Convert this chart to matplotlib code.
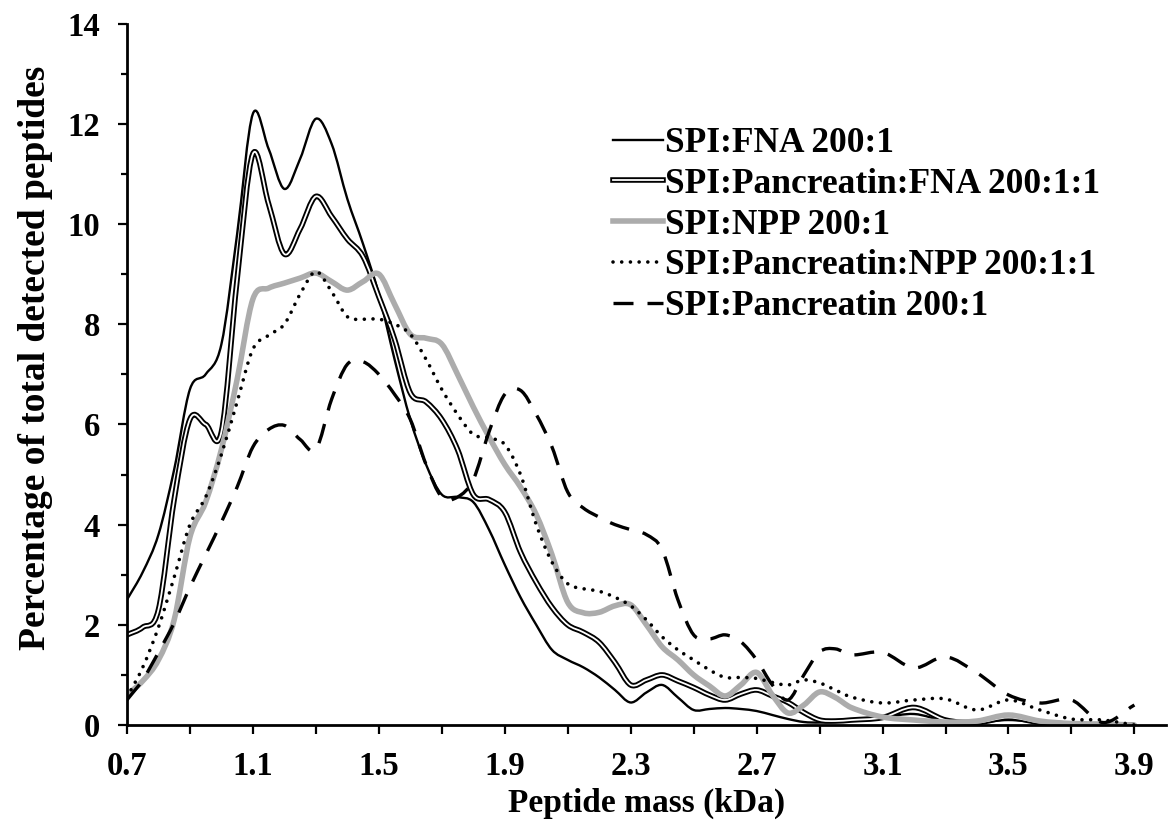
import matplotlib
matplotlib.use("Agg")
import numpy as np
import matplotlib.pyplot as plt
from matplotlib.path import Path
from matplotlib.patches import PathPatch
from matplotlib.lines import Line2D
from matplotlib.ticker import MultipleLocator, FixedLocator
import matplotlib.patheffects as pe

plt.rcParams['font.family'] = ['Liberation Serif', 'DejaVu Serif']
plt.rcParams['font.weight'] = 'bold'

# Peptide mass (kDa)
mass = [0.70, 0.75, 0.80, 0.85, 0.90, 0.95, 1.00, 1.05, 1.10, 1.15, 1.20, 1.25,
        1.30, 1.35, 1.40, 1.45, 1.50, 1.55, 1.60, 1.65, 1.70, 1.75, 1.80, 1.85,
        1.90, 1.95, 2.00, 2.05, 2.10, 2.15, 2.20, 2.25, 2.30, 2.35, 2.40, 2.45,
        2.50, 2.55, 2.60, 2.65, 2.70, 2.75, 2.80, 2.85, 2.90, 2.95, 3.00, 3.10,
        3.20, 3.30, 3.40, 3.50, 3.60, 3.70, 3.80, 3.90]

fna = [2.5, 3.05, 3.8, 5.1, 6.7, 7.0, 7.6, 9.8, 12.2, 11.5, 10.7, 11.3,
       12.1, 11.6, 10.5, 9.6, 8.6, 7.3, 6.1, 5.2, 4.6, 4.55, 4.45, 3.9,
       3.2, 2.55, 2.0, 1.5, 1.3, 1.15, 0.95, 0.7, 0.45, 0.65, 0.8, 0.55,
       0.3, 0.32, 0.34, 0.32, 0.28, 0.2, 0.12, 0.06, 0.05, 0.07, 0.1, 0.15,
       0.22, 0.08, 0.05, 0.1, 0.05, 0.02, 0.0, 0.0]

panc_fna = [1.8, 1.95, 2.3, 4.5, 6.1, 6.0, 5.85, 8.9, 11.4, 10.4, 9.4, 9.9,
            10.55, 10.15, 9.7, 9.35, 8.55, 7.7, 6.63, 6.45, 6.1, 5.5, 4.6, 4.5,
            4.25, 3.45, 2.85, 2.35, 2.0, 1.85, 1.65, 1.25, 0.8, 0.9, 1.0, 0.88,
            0.75, 0.6, 0.5, 0.62, 0.7, 0.58, 0.45, 0.25, 0.1, 0.08, 0.1, 0.15,
            0.35, 0.1, 0.05, 0.15, 0.05, 0.02, 0.0, 0.0]

npp = [0.6, 0.88, 1.3, 2.1, 3.75, 4.45, 5.5, 6.9, 8.5, 8.72, 8.82, 8.92,
       9.02, 8.85, 8.68, 8.85, 9.0, 8.4, 7.8, 7.72, 7.6, 7.0, 6.35, 5.75,
       5.2, 4.75, 4.2, 3.4, 2.45, 2.24, 2.25, 2.38, 2.4, 2.0, 1.56, 1.3,
       1.0, 0.78, 0.58, 0.8, 1.05, 0.6, 0.24, 0.4, 0.66, 0.55, 0.35, 0.16,
       0.1, 0.06, 0.08, 0.2, 0.08, 0.03, 0.02, 0.0]

panc_npp = [0.55, 1.15, 1.95, 2.95, 4.0, 4.55, 5.4, 6.45, 7.5, 7.78, 8.0, 8.6,
            9.05, 8.65, 8.15, 8.1, 8.1, 8.0, 7.8, 7.3, 6.7, 6.2, 5.8, 5.73,
            5.6, 5.0, 4.0, 3.25, 2.82, 2.72, 2.67, 2.55, 2.38, 2.1, 1.76, 1.5,
            1.3, 1.1, 0.95, 0.95, 0.93, 0.85, 0.8, 0.9, 0.84, 0.7, 0.56, 0.44,
            0.5, 0.52, 0.3, 0.5, 0.3, 0.12, 0.1, 0.0]

panc = [0.5, 0.9, 1.45, 2.04, 2.75, 3.4, 4.05, 4.75, 5.55, 5.9, 5.98, 5.7,
        5.5, 6.5, 7.2, 7.25, 7.0, 6.6, 6.1, 5.2, 4.55, 4.55, 4.9, 5.85,
        6.6, 6.68, 6.2, 5.55, 4.65, 4.33, 4.15, 4.0, 3.9, 3.8, 3.5, 2.5,
        1.8, 1.72, 1.8, 1.66, 1.3, 0.8, 0.5, 1.0, 1.46, 1.52, 1.4, 1.45,
        1.14, 1.36, 1.04, 0.6, 0.44, 0.5, 0.05, 0.4]

labels = ["SPI:FNA 200:1", "SPI:Pancreatin:FNA 200:1:1", "SPI:NPP 200:1",
          "SPI:Pancreatin:NPP 200:1:1", "SPI:Pancreatin 200:1"]
xticks = [0.7, 1.1, 1.5, 1.9, 2.3, 2.7, 3.1, 3.5, 3.9]
xminor = [0.9, 1.3, 1.7, 2.1, 2.5, 2.9, 3.3, 3.7]


def smooth_path(xs, ys):
    """Smoothed-line rendering (like a spreadsheet 'smoothed line'):
    cubic Bezier segments through every data point."""
    x = np.asarray(xs, float)
    y = np.asarray(ys, float)
    n = len(x)
    m = np.zeros(n)
    m[1:-1] = (y[2:] - y[:-2]) / (x[2:] - x[:-2])
    m[0] = (y[1] - y[0]) / (x[1] - x[0])
    m[-1] = (y[-1] - y[-2]) / (x[-1] - x[-2])
    verts = [(x[0], y[0])]
    codes = [Path.MOVETO]
    for i in range(n - 1):
        h = x[i + 1] - x[i]
        verts += [(x[i] + h / 3, y[i] + m[i] * h / 3),
                  (x[i + 1] - h / 3, y[i + 1] - m[i + 1] * h / 3),
                  (x[i + 1], y[i + 1])]
        codes += [Path.CURVE4] * 3
    return Path(verts, codes)


fig = plt.figure(figsize=(11.7, 8.27), dpi=100)
ax = fig.add_axes([0.1085, 0.1233, 0.888, 0.8482])

GRAY = '#acacac'
styles = [
    dict(edgecolor='black', lw=1.7, linestyle='-'),
    dict(edgecolor='white', lw=1.3, linestyle='-',
         path_effects=[pe.Stroke(linewidth=4.0, foreground='black'), pe.Normal()]),
    dict(edgecolor=GRAY, lw=4.0, linestyle='-', capstyle='round'),
    dict(edgecolor='black', lw=2.6, linestyle=(0, (0.01, 2.4)), capstyle='round'),
    dict(edgecolor='black', lw=2.4, linestyle=(0, (6.0, 4.2)), capstyle='butt'),
]
series = [fna, panc_fna, npp, panc_npp, panc]
for ys, st in zip(series, styles):
    p = PathPatch(smooth_path(mass, ys), facecolor='none', joinstyle='round',
                  transform=ax.transData, **st)
    ax.add_patch(p)

ax.set_xlim(0.7, 4.0)
ax.set_ylim(0, 14)
ax.xaxis.set_major_locator(FixedLocator(xticks))
ax.xaxis.set_minor_locator(FixedLocator(xminor))
ax.set_xticklabels([f"{v:.1f}" for v in xticks])
ax.yaxis.set_major_locator(MultipleLocator(2))
ax.yaxis.set_minor_locator(MultipleLocator(1))

for s in ['top', 'right']:
    ax.spines[s].set_visible(False)
for s in ['left', 'bottom']:
    ax.spines[s].set_linewidth(2.0)

ax.tick_params(axis='both', which='major', direction='out', length=6.5, width=1.6,
               labelsize=23.5)
ax.tick_params(axis='x', which='major', pad=12)
ax.tick_params(axis='y', which='major', pad=13)
ax.tick_params(axis='x', which='minor', direction='out', length=6.5, width=1.6)
ax.tick_params(axis='y', which='minor', direction='out', length=4.5, width=1.6)
for t in ax.get_xticklabels() + ax.get_yticklabels():
    t.set_fontweight('bold')

ax.set_xlabel("Peptide mass (kDa)", fontsize=24, fontweight='bold', labelpad=4)
ax.set_ylabel("Percentage of total detected peptides", fontsize=27,
              fontweight='bold')
ax.yaxis.set_label_coords(-0.071, 0.524)

handles = []
for st in styles:
    kw = dict(color=st['edgecolor'], lw=st['lw'], linestyle=st['linestyle'])
    if 'path_effects' in st:
        kw['path_effects'] = st['path_effects']
    if st['linestyle'] != '-':
        kw['dash_capstyle'] = st.get('capstyle', 'butt')
    handles.append(Line2D([], [], **kw))

leg = fig.legend(handles, labels, loc='upper left',
                 bbox_to_anchor=(0.524, 0.8464), frameon=False,
                 prop={'family': ['Liberation Serif'], 'weight': 'bold', 'size': 25.5},
                 handlelength=1.4, handletextpad=0.08, labelspacing=0.22,
                 borderpad=0, borderaxespad=0)

fig.savefig("out.png", dpi=100)
